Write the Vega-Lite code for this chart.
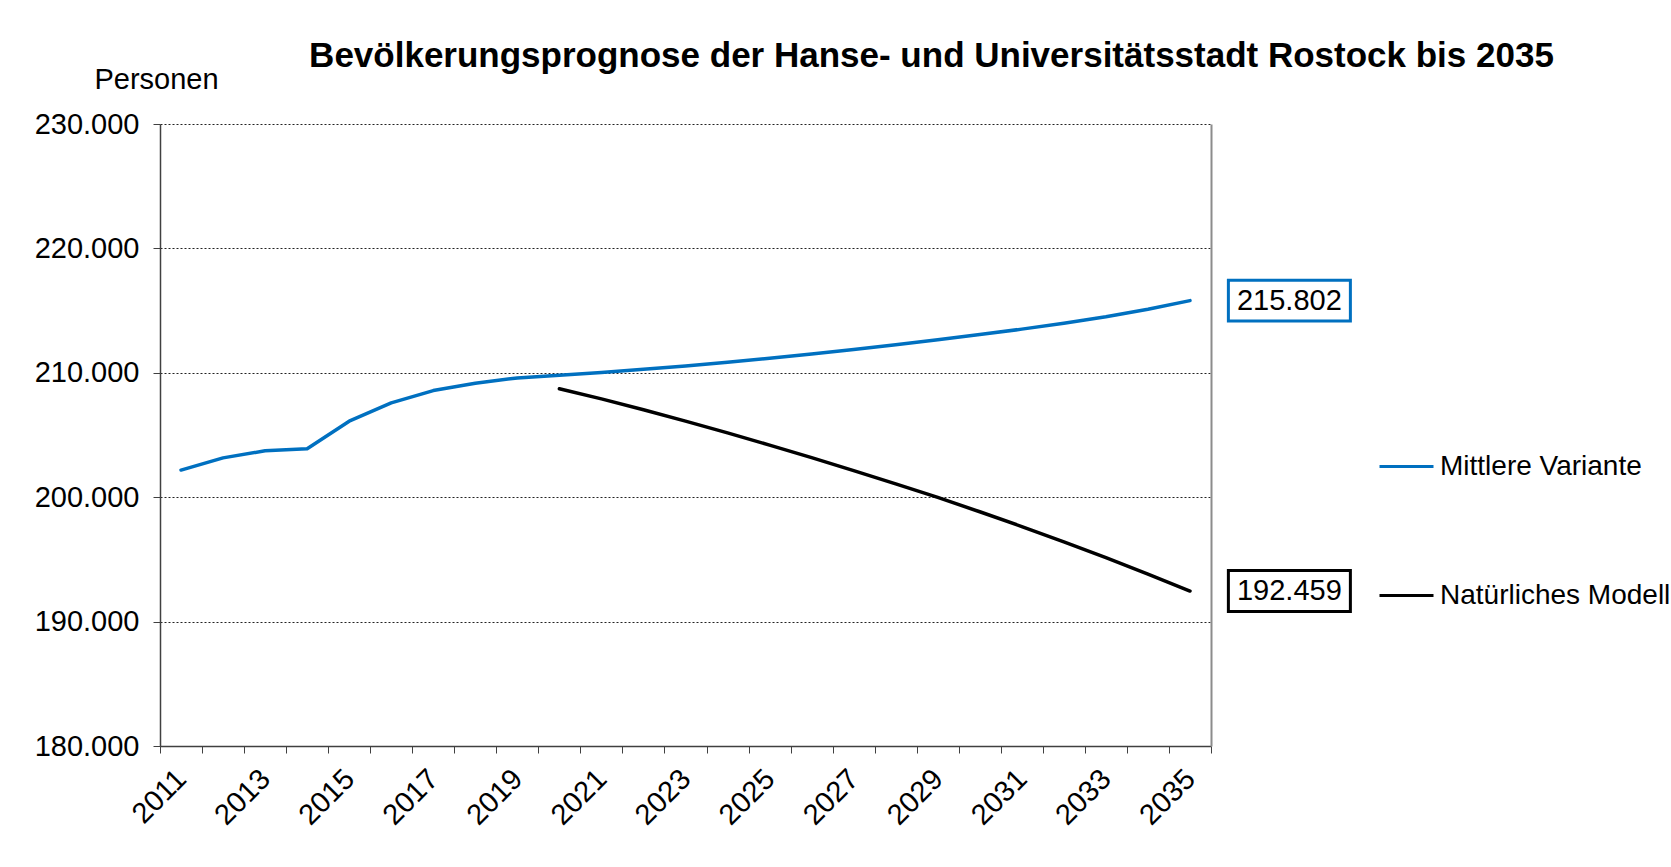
{
  "$schema": "https://vega.github.io/schema/vega-lite/v6.json",
  "autosize": {"type": "none"},
  "width": 1051,
  "height": 622,
  "padding": {"left": 160, "top": 124, "right": 460, "bottom": 121},
  "background": "white",
  "config": {
    "locale": {"number": {"decimal": ",", "thousands": ".", "grouping": [3], "currency": ["", " €"]}},
    "font": "Liberation Sans",
    "view": {"stroke": null}
  },
  "title": {
    "text": "Bevölkerungsprognose der Hanse- und Universitätsstadt Rostock bis 2035",
    "fontSize": 35,
    "fontWeight": "bold",
    "color": "black",
    "anchor": "middle",
    "frame": "group",
    "dx": 246,
    "dy": 37,
    "baseline": "alphabetic",
    "offset": 0
  },
  "datasets": {
    "pop": [
      {"Jahr": 2011, "Serie": "Mittlere Variante", "Personen": 202180},
      {"Jahr": 2012, "Serie": "Mittlere Variante", "Personen": 203160},
      {"Jahr": 2013, "Serie": "Mittlere Variante", "Personen": 203730},
      {"Jahr": 2014, "Serie": "Mittlere Variante", "Personen": 203890},
      {"Jahr": 2015, "Serie": "Mittlere Variante", "Personen": 206110},
      {"Jahr": 2016, "Serie": "Mittlere Variante", "Personen": 207580},
      {"Jahr": 2017, "Serie": "Mittlere Variante", "Personen": 208570},
      {"Jahr": 2018, "Serie": "Mittlere Variante", "Personen": 209160},
      {"Jahr": 2019, "Serie": "Mittlere Variante", "Personen": 209590},
      {"Jahr": 2020, "Serie": "Mittlere Variante", "Personen": 209800},
      {"Jahr": 2021, "Serie": "Mittlere Variante", "Personen": 210030},
      {"Jahr": 2022, "Serie": "Mittlere Variante", "Personen": 210280},
      {"Jahr": 2023, "Serie": "Mittlere Variante", "Personen": 210550},
      {"Jahr": 2024, "Serie": "Mittlere Variante", "Personen": 210850},
      {"Jahr": 2025, "Serie": "Mittlere Variante", "Personen": 211170},
      {"Jahr": 2026, "Serie": "Mittlere Variante", "Personen": 211510},
      {"Jahr": 2027, "Serie": "Mittlere Variante", "Personen": 211870},
      {"Jahr": 2028, "Serie": "Mittlere Variante", "Personen": 212250},
      {"Jahr": 2029, "Serie": "Mittlere Variante", "Personen": 212650},
      {"Jahr": 2030, "Serie": "Mittlere Variante", "Personen": 213070},
      {"Jahr": 2031, "Serie": "Mittlere Variante", "Personen": 213510},
      {"Jahr": 2032, "Serie": "Mittlere Variante", "Personen": 213980},
      {"Jahr": 2033, "Serie": "Mittlere Variante", "Personen": 214500},
      {"Jahr": 2034, "Serie": "Mittlere Variante", "Personen": 215110},
      {"Jahr": 2035, "Serie": "Mittlere Variante", "Personen": 215802},
      {"Jahr": 2020, "Serie": "Natürliches Modell", "Personen": 208720},
      {"Jahr": 2021, "Serie": "Natürliches Modell", "Personen": 207900},
      {"Jahr": 2022, "Serie": "Natürliches Modell", "Personen": 207030},
      {"Jahr": 2023, "Serie": "Natürliches Modell", "Personen": 206120},
      {"Jahr": 2024, "Serie": "Natürliches Modell", "Personen": 205170},
      {"Jahr": 2025, "Serie": "Natürliches Modell", "Personen": 204190},
      {"Jahr": 2026, "Serie": "Natürliches Modell", "Personen": 203180},
      {"Jahr": 2027, "Serie": "Natürliches Modell", "Personen": 202140},
      {"Jahr": 2028, "Serie": "Natürliches Modell", "Personen": 201070},
      {"Jahr": 2029, "Serie": "Natürliches Modell", "Personen": 199980},
      {"Jahr": 2030, "Serie": "Natürliches Modell", "Personen": 198830},
      {"Jahr": 2031, "Serie": "Natürliches Modell", "Personen": 197640},
      {"Jahr": 2032, "Serie": "Natürliches Modell", "Personen": 196410},
      {"Jahr": 2033, "Serie": "Natürliches Modell", "Personen": 195140},
      {"Jahr": 2034, "Serie": "Natürliches Modell", "Personen": 193820},
      {"Jahr": 2035, "Serie": "Natürliches Modell", "Personen": 192459}
    ]
  },
  "data": {"name": "pop"},
  "resolve": {"axis": {"y": "independent"}},
  "layer": [
    {
      "mark": {"type": "line", "strokeWidth": 3.5, "strokeCap": "round", "strokeJoin": "round"},
      "encoding": {
        "x": {
          "field": "Jahr",
          "type": "ordinal",
          "scale": {"type": "band", "paddingInner": 0, "paddingOuter": 0},
          "axis": {
            "title": null,
            "tickBand": "extent",
            "labelAngle": -45,
            "labelAlign": "right",
            "labelBaseline": "middle",
            "labelExpr": "(+datum.value - 2011) % 2 == 0 ? datum.label : ''",
            "labelFontSize": 29,
            "labelColor": "black",
            "labelPadding": 21,
            "labelOverlap": false,
            "tickSize": 7,
            "tickColor": "#404040",
            "tickWidth": 1,
            "domainColor": "#404040",
            "domainWidth": 1.5,
            "grid": false
          }
        },
        "y": {
          "field": "Personen",
          "type": "quantitative",
          "scale": {"domain": [180000, 230000], "nice": false, "zero": false},
          "axis": {
            "values": [180000, 190000, 200000, 210000, 220000, 230000],
            "format": ",.0f",
            "labelFontSize": 29,
            "labelColor": "black",
            "labelPadding": 14,
            "tickSize": 7,
            "tickColor": "#404040",
            "domainColor": "#404040",
            "domainWidth": 1.5,
            "grid": true,
            "gridDash": [2, 2],
            "gridColor": "#222222",
            "gridWidth": 1,
            "title": "Personen",
            "titleAngle": 0,
            "titleAlign": "center",
            "titleBaseline": "alphabetic",
            "titleX": -4,
            "titleY": -36,
            "titleFontSize": 29,
            "titleFontWeight": "normal",
            "titleColor": "black"
          }
        },
        "color": {
          "field": "Serie",
          "type": "nominal",
          "scale": {"domain": ["Mittlere Variante", "Natürliches Modell"], "range": ["#0070C0", "#000000"]},
          "legend": {
            "orient": "none",
            "legendX": 1218,
            "legendY": 314,
            "title": null,
            "labelFontSize": 28,
            "labelColor": "black",
            "labelLimit": 600,
            "symbolType": "stroke",
            "symbolSize": 2916,
            "symbolStrokeWidth": 3,
            "labelOffset": 5,
            "rowPadding": 86,
            "padding": 0
          }
        }
      }
    },
    {
      "transform": [{"filter": "datum.Jahr == 2035"}],
      "mark": {
        "type": "point",
        "shape": "M-1,-0.336L1,-0.336L1,0.336L-1,0.336Z",
        "size": 14884,
        "fill": "white",
        "fillOpacity": 1,
        "strokeWidth": 3,
        "opacity": 1,
        "xOffset": 99.4
      },
      "encoding": {
        "x": {"field": "Jahr", "type": "ordinal"},
        "y": {"field": "Personen", "type": "quantitative", "axis": null},
        "stroke": {
          "field": "Serie",
          "type": "nominal",
          "scale": {"domain": ["Mittlere Variante", "Natürliches Modell"], "range": ["#0070C0", "#000000"]},
          "legend": null
        }
      }
    },
    {
      "transform": [{"filter": "datum.Jahr == 2035"}],
      "mark": {"type": "text", "dx": 99.4, "fontSize": 29, "align": "center", "baseline": "middle", "color": "black"},
      "encoding": {
        "x": {"field": "Jahr", "type": "ordinal"},
        "y": {
          "field": "Personen",
          "type": "quantitative",
          "axis": {
            "orient": "right",
            "labels": false,
            "ticks": false,
            "grid": false,
            "title": null,
            "domainColor": "#8c8c8c",
            "domainWidth": 2
          }
        },
        "text": {"field": "Personen", "type": "quantitative", "format": ",.0f"}
      }
    }
  ]
}
